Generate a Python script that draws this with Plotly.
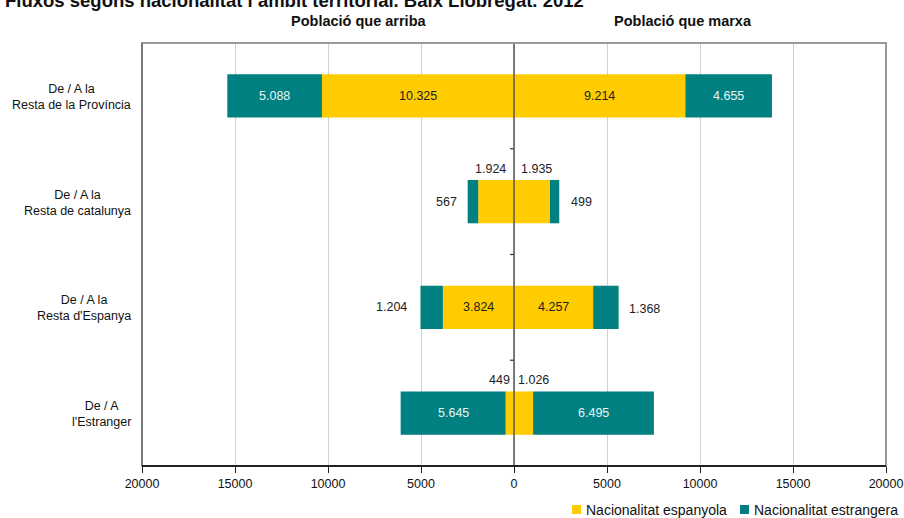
import plotly.graph_objects as go

categories = ["De / A la<br>Resta de la Província", "De / A la<br>Resta de catalunya",
              "De / A la<br>Resta d'Espanya", "De / A<br>l'Estranger"]
arriba_espanyola = [10325, 1924, 3824, 449]
arriba_estrangera = [5088, 567, 1204, 5645]
marxa_espanyola = [9214, 1935, 4257, 1026]
marxa_estrangera = [4655, 499, 1368, 6495]
tick_vals = [-20000, -15000, -10000, -5000, 0, 5000, 10000, 15000, 20000]
tick_text = ["20000", "15000", "10000", "5000", "0", "5000", "10000", "15000", "20000"]
legend_names = ["Nacionalitat espanyola", "Nacionalitat estrangera"]

YEL = "#FFCC00"
TEAL = "#008080"
FONT = "Liberation Sans"

# plot-area geometry in pixels
L, R, T, B = 142, 886, 43, 466
W_PX, H_PX = 904, 518


def px_x(p):
    return (p - L) / (R - L)


def px_y(p):
    return (B - p) / (B - T)


def fmt(v):
    return f"{v:,}".replace(",", ".")


ypos = list(range(len(categories)))
W = 0.41

fig = go.Figure()
for xs, col in [([-v for v in arriba_espanyola], YEL), ([-v for v in arriba_estrangera], TEAL),
                (marxa_espanyola, YEL), (marxa_estrangera, TEAL)]:
    fig.add_trace(go.Bar(y=ypos, x=xs, orientation="h", width=W,
                         marker=dict(color=col, line_width=0), showlegend=False, hoverinfo="skip"))

ann = []
DARK = "#222222"
LIGHT = "#EAF4F4"
fs = 12.5
for i in ypos:
    ae, ax_, me, mx = arriba_espanyola[i], arriba_estrangera[i], marxa_espanyola[i], marxa_estrangera[i]
    if i == 0:
        ann.append(dict(x=-(ae + ax_ / 2), y=i, text=fmt(ax_), font=dict(color=LIGHT, size=fs)))
        ann.append(dict(x=-ae / 2, y=i, text=fmt(ae), font=dict(color=DARK, size=fs)))
        ann.append(dict(x=me / 2, y=i, text=fmt(me), font=dict(color=DARK, size=fs)))
        ann.append(dict(x=me + mx / 2, y=i, text=fmt(mx), font=dict(color=LIGHT, size=fs)))
    elif i == 1:
        ann.append(dict(x=-ae / 2, y=i, text=fmt(ae), xshift=-6, yshift=33, font=dict(color=DARK, size=fs)))
        ann.append(dict(x=me / 2, y=i, text=fmt(me), xshift=4, yshift=33, font=dict(color=DARK, size=fs)))
        ann.append(dict(x=-(ae + ax_), y=i, text=fmt(ax_), xanchor="right", xshift=-9, font=dict(color=DARK, size=fs)))
        ann.append(dict(x=me + mx, y=i, text=fmt(mx), xanchor="left", xshift=10, font=dict(color=DARK, size=fs)))
    elif i == 2:
        ann.append(dict(x=-ae / 2, y=i, text=fmt(ae), font=dict(color=DARK, size=fs)))
        ann.append(dict(x=me / 2, y=i, text=fmt(me), font=dict(color=DARK, size=fs)))
        ann.append(dict(x=-(ae + ax_), y=i, text=fmt(ax_), xanchor="right", xshift=-11, font=dict(color=DARK, size=fs)))
        ann.append(dict(x=me + mx, y=i, text=fmt(mx), xanchor="left", xshift=8, yshift=-2, font=dict(color=DARK, size=fs)))
    else:
        ann.append(dict(x=0, y=i, text=fmt(ae), xanchor="right", xshift=-2, yshift=33, font=dict(color=DARK, size=fs)))
        ann.append(dict(x=0, y=i, text=fmt(me), xanchor="left", xshift=2, yshift=33, font=dict(color=DARK, size=fs)))
        ann.append(dict(x=-(ae + ax_ / 2), y=i, text=fmt(ax_), font=dict(color=LIGHT, size=fs)))
        ann.append(dict(x=me + mx / 2, y=i, text=fmt(mx), font=dict(color=LIGHT, size=fs)))
for a in ann:
    a.update(xref="x", yref="y", showarrow=False, font=dict(family=FONT, **a["font"]))
    a.setdefault("xanchor", "center")

for i, c in enumerate(categories):
    ann.append(dict(x=0, xref="paper", y=i, yref="y", text=c, showarrow=False, xanchor="right",
                    align="center", xshift=-9, yshift=-1, font=dict(family=FONT, size=12.5, color="#111")))

for txt, cx in [("Població que arriba", 359), ("Població que marxa", 683)]:
    ann.append(dict(x=px_x(cx), y=px_y(21), xref="paper", yref="paper", text=f"<b>{txt}</b>",
                    showarrow=False, xanchor="center", yanchor="middle",
                    font=dict(family=FONT, size=14.5, color="#111")))

# manual legend
shapes = []
for name, col, sx in [(legend_names[0], YEL, 572), (legend_names[1], TEAL, 740)]:
    shapes.append(dict(type="rect", xref="paper", yref="paper", x0=px_x(sx), x1=px_x(sx + 9),
                       y0=px_y(505), y1=px_y(514), fillcolor=col, line_width=0))
    ann.append(dict(x=px_x(sx + 12), y=px_y(510), xref="paper", yref="paper", text=name, showarrow=False,
                    xanchor="left", yanchor="middle", font=dict(family=FONT, size=14, color="#111")))

for b in [0.5, 1.5, 2.5]:
    shapes.append(dict(type="line", xref="x", yref="y", xsizemode="pixel", xanchor=0, x0=-4, x1=0,
                       y0=b, y1=b, line=dict(color="#333", width=1.2)))
shapes.append(dict(type="line", xref="x", yref="paper", x0=0, x1=0, y0=0, y1=1,
                   line=dict(color="#555555", width=1.5), layer="above"))
shapes.append(dict(type="rect", xref="paper", yref="paper", x0=0, x1=1, y0=0, y1=1,
                   line=dict(color="#999999", width=2), layer="above"))
shapes.append(dict(type="line", xref="paper", yref="paper", x0=0, x1=0, y0=0, y1=1,
                   line=dict(color="#777777", width=2), layer="above"))
shapes.append(dict(type="line", xref="paper", yref="paper", x0=0, x1=1, y0=0, y1=0,
                   line=dict(color="#222222", width=2), layer="above"))

fig.update_layout(
    width=W_PX, height=H_PX,
    margin=dict(l=L, r=W_PX - R, t=T, b=H_PX - B, autoexpand=False),
    barmode="relative",
    plot_bgcolor="white", paper_bgcolor="white",
    title=dict(text="<b>Fluxos segons nacionalitat i àmbit territorial. Baix Llobregat. 2012</b>",
               x=5 / W_PX, xanchor="left", y=1 - 1 / H_PX, yanchor="middle", yref="container",
               font=dict(family=FONT, size=18.5, color="#111")),
    xaxis=dict(range=[-20000, 20000], tickvals=tick_vals, ticktext=tick_text, showgrid=True,
               gridcolor="#D0D0D0", gridwidth=1, zeroline=False,
               showline=False, ticks="outside", ticklen=6, tickcolor="#222", tickwidth=1,
               tickfont=dict(family=FONT, size=12.5, color="#111"), fixedrange=True),
    yaxis=dict(range=[3.5, -0.5], showticklabels=False, showgrid=False, zeroline=False, fixedrange=True),
    showlegend=False,
    annotations=ann, shapes=shapes,
)

fig.write_html("out.html", config={"displayModeBar": False},
               post_script="document.body.style.margin='0';document.body.style.overflow='hidden';")
